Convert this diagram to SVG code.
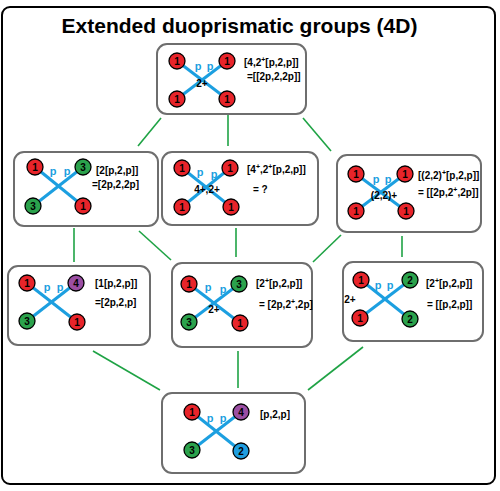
<svg xmlns="http://www.w3.org/2000/svg" width="500" height="491" viewBox="0 0 500 491">
<style>
text{font-family:"Liberation Sans",Arial,sans-serif;font-weight:bold;}
.title{font-size:21px;fill:#000;text-anchor:middle;}
.box{fill:#fff;stroke:#6e6e6e;stroke-width:2;}
.edge{stroke:#1c9fe0;stroke-width:3;stroke-linecap:butt;}
.c{stroke:#000;stroke-width:1.3;}
.r{fill:#e8242a;}
.g{fill:#2ba24c;}
.v{fill:#9b4ea3;}
.b{fill:#1f9ee0;}
.n{font-size:10px;fill:#000;text-anchor:middle;}
.p{font-size:11px;fill:#1c9fe0;text-anchor:middle;}
.lbl{font-size:10px;fill:#000;}
.mid{font-size:10px;fill:#000;text-anchor:middle;}
.sup{font-size:7px;}
.conn line{stroke:#1fa345;stroke-width:1.6;}
</style>
<rect x="2" y="7" width="493" height="477" rx="8" fill="#fff" stroke="#000" stroke-width="2"/>
<text class="title" x="239.5" y="33">Extended duoprismatic groups (4D)</text>
<g class="conn" id="connectors">
<line x1="161" y1="118" x2="138" y2="146"/>
<line x1="228" y1="115" x2="228" y2="146"/>
<line x1="303" y1="118" x2="331" y2="151"/>
<line x1="74" y1="228" x2="74" y2="262"/>
<line x1="139" y1="231" x2="171" y2="260"/>
<line x1="236" y1="228" x2="236" y2="257"/>
<line x1="341" y1="235" x2="313" y2="262"/>
<line x1="402" y1="236" x2="402" y2="257"/>
<line x1="93" y1="351" x2="160" y2="390"/>
<line x1="238" y1="351" x2="238" y2="388"/>
<line x1="363" y1="347" x2="308" y2="390"/>
</g>
<g id="top">
<rect class="box" x="157" y="44" width="149" height="70" rx="10"/>
<line class="edge" x1="177" y1="61" x2="227" y2="99"/>
<line class="edge" x1="227" y1="61" x2="177" y2="99"/>
<circle class="c r" cx="177" cy="61" r="8"/><text class="n" x="177" y="64.5">1</text>
<circle class="c r" cx="227" cy="61" r="8"/><text class="n" x="227" y="64.5">1</text>
<circle class="c r" cx="177" cy="99" r="8"/><text class="n" x="177" y="102.5">1</text>
<circle class="c r" cx="227" cy="99" r="8"/><text class="n" x="227" y="102.5">1</text>
<text class="p" x="198" y="70">p</text><text class="p" x="210" y="70">p</text>
<text class="mid" x="202" y="87">2+</text>
<text class="lbl" x="244" y="66">[4,2<tspan class="sup" dy="-4">+</tspan><tspan dy="4">[p,2,p]]</tspan></text>
<text class="lbl" x="247" y="80">=[[2p,2,2p]]</text>
</g>
<g id="a">
<rect class="box" x="14" y="152" width="144" height="74" rx="10"/>
<line class="edge" x1="35" y1="167" x2="83" y2="206"/>
<line class="edge" x1="83" y1="167" x2="33" y2="206"/>
<circle class="c r" cx="35" cy="167" r="8"/><text class="n" x="35" y="170.5">1</text>
<circle class="c g" cx="83" cy="167" r="8"/><text class="n" x="83" y="170.5">3</text>
<circle class="c g" cx="33" cy="206" r="8"/><text class="n" x="33" y="209.5">3</text>
<circle class="c r" cx="83" cy="206" r="8"/><text class="n" x="83" y="209.5">1</text>
<text class="p" x="53" y="175">p</text><text class="p" x="67" y="175">p</text>
<text class="lbl" x="96" y="174">[2[p,2,p]]</text>
<text class="lbl" x="92" y="188">=[2p,2,2p]</text>
</g>
<g id="b">
<rect class="box" x="162" y="152" width="156" height="73" rx="10"/>
<line class="edge" x1="182" y1="168" x2="231" y2="207"/>
<line class="edge" x1="230" y1="168" x2="182" y2="207"/>
<circle class="c r" cx="182" cy="168" r="8"/><text class="n" x="182" y="171.5">1</text>
<circle class="c r" cx="230" cy="168" r="8"/><text class="n" x="230" y="171.5">1</text>
<circle class="c r" cx="182" cy="207" r="8"/><text class="n" x="182" y="210.5">1</text>
<circle class="c r" cx="231" cy="207" r="8"/><text class="n" x="231" y="210.5">1</text>
<text class="p" x="200" y="176">p</text><text class="p" x="214" y="178">p</text>
<text class="mid" x="207" y="193">4+,2+</text>
<text class="lbl" x="247" y="173">[4<tspan class="sup" dy="-4">+</tspan><tspan dy="4">,2</tspan><tspan class="sup" dy="-4">+</tspan><tspan dy="4">[p,2,p]]</tspan></text>
<text class="lbl" x="253" y="193">= ?</text>
</g>
<g id="c">
<rect class="box" x="337" y="155" width="144" height="77" rx="10"/>
<line class="edge" x1="356" y1="174" x2="406" y2="211"/>
<line class="edge" x1="405" y1="174" x2="356" y2="211"/>
<circle class="c r" cx="356" cy="174" r="8"/><text class="n" x="356" y="177.5">1</text>
<circle class="c r" cx="405" cy="174" r="8"/><text class="n" x="405" y="177.5">1</text>
<circle class="c r" cx="356" cy="211" r="8"/><text class="n" x="356" y="214.5">1</text>
<circle class="c r" cx="406" cy="211" r="8"/><text class="n" x="406" y="214.5">1</text>
<text class="p" x="376" y="183">p</text><text class="p" x="388" y="183">p</text>
<text class="mid" x="384" y="199">(2,2)+</text>
<text class="lbl" x="418" y="179">[(2,2)<tspan class="sup" dy="-4">+</tspan><tspan dy="4">[p,2,p]]</tspan></text>
<text class="lbl" x="418" y="196">= [[2p,2<tspan class="sup" dy="-4">+</tspan><tspan dy="4">,2p]]</tspan></text>
</g>
<g id="d">
<rect class="box" x="8" y="266" width="142" height="79" rx="10"/>
<line class="edge" x1="27" y1="283" x2="77" y2="322"/>
<line class="edge" x1="76" y1="283" x2="27" y2="321"/>
<circle class="c r" cx="27" cy="283" r="8"/><text class="n" x="27" y="286.5">1</text>
<circle class="c v" cx="76" cy="283" r="8"/><text class="n" x="76" y="286.5">4</text>
<circle class="c g" cx="27" cy="321" r="8"/><text class="n" x="27" y="324.5">3</text>
<circle class="c r" cx="77" cy="322" r="8"/><text class="n" x="77" y="325.5">1</text>
<text class="p" x="47" y="291">p</text><text class="p" x="60" y="291">p</text>
<text class="lbl" x="95" y="287">[1[p,2,p]]</text>
<text class="lbl" x="95" y="306">=[2p,2,p]</text>
</g>
<g id="e">
<rect class="box" x="172" y="263" width="140" height="84" rx="10"/>
<line class="edge" x1="189" y1="284" x2="240" y2="323"/>
<line class="edge" x1="239" y1="284" x2="189" y2="322"/>
<circle class="c r" cx="189" cy="284" r="8"/><text class="n" x="189" y="287.5">1</text>
<circle class="c g" cx="239" cy="284" r="8"/><text class="n" x="239" y="287.5">3</text>
<circle class="c g" cx="189" cy="322" r="8"/><text class="n" x="189" y="325.5">3</text>
<circle class="c r" cx="240" cy="323" r="8"/><text class="n" x="240" y="326.5">1</text>
<text class="p" x="208" y="291">p</text><text class="p" x="223" y="293">p</text>
<text class="mid" x="214" y="313">2+</text>
<text class="lbl" x="256" y="287">[2<tspan class="sup" dy="-4">+</tspan><tspan dy="4">[p,2,p]]</tspan></text>
<text class="lbl" x="259" y="308">= [2p,2<tspan class="sup" dy="-4">+</tspan><tspan dy="4">,2p]</tspan></text>
</g>
<g id="f">
<rect class="box" x="343" y="262" width="140" height="79" rx="10"/>
<line class="edge" x1="361" y1="280" x2="410" y2="319"/>
<line class="edge" x1="410" y1="280" x2="360" y2="318"/>
<circle class="c r" cx="361" cy="280" r="8"/><text class="n" x="361" y="283.5">1</text>
<circle class="c g" cx="410" cy="280" r="8"/><text class="n" x="410" y="283.5">2</text>
<circle class="c r" cx="360" cy="318" r="8"/><text class="n" x="360" y="321.5">1</text>
<circle class="c g" cx="410" cy="319" r="8"/><text class="n" x="410" y="322.5">2</text>
<text class="p" x="378" y="289">p</text><text class="p" x="390" y="289">p</text>
<text class="mid" x="350" y="303">2+</text>
<text class="lbl" x="426" y="287">[2<tspan class="sup" dy="-4">+</tspan><tspan dy="4">[p,2,p]]</tspan></text>
<text class="lbl" x="427" y="308">= [[p,2,p]]</text>
</g>
<g id="g">
<rect class="box" x="162" y="393" width="143" height="80" rx="10"/>
<line class="edge" x1="192" y1="412" x2="241" y2="451"/>
<line class="edge" x1="241" y1="412" x2="192" y2="450"/>
<circle class="c r" cx="192" cy="412" r="8"/><text class="n" x="192" y="415.5">1</text>
<circle class="c v" cx="241" cy="412" r="8"/><text class="n" x="241" y="415.5">4</text>
<circle class="c g" cx="192" cy="450" r="8"/><text class="n" x="192" y="453.5">3</text>
<circle class="c b" cx="241" cy="451" r="8"/><text class="n" x="241" y="454.5">2</text>
<text class="p" x="210" y="422">p</text><text class="p" x="223" y="422">p</text>
<text class="lbl" x="260" y="418">[p,2,p]</text>
</g>
</svg>
